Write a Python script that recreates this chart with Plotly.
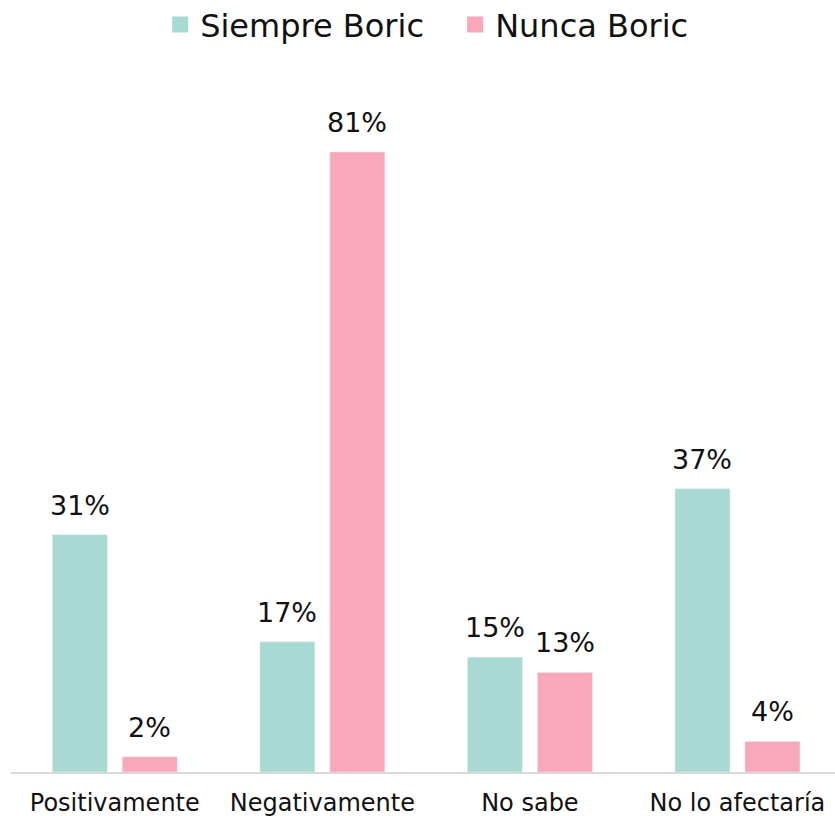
import plotly.graph_objects as go

categories = ["Positivamente", "Negativamente", "No sabe", "No lo afectaría"]
siempre = [31, 17, 15, 37]
nunca = [2, 81, 13, 4]
series_names = ["Siempre Boric", "Nunca Boric"]
colors = ["#A8DAD3", "#F8A8BA"]

FONT = "DejaVu Sans"
fig = go.Figure()
offsets = [-0.301, 0.036]
for name, vals, col, off in [(series_names[0], siempre, colors[0], offsets[0]),
                             (series_names[1], nunca, colors[1], offsets[1])]:
    fig.add_trace(go.Bar(
        x=categories, y=vals, name=name, marker_color=col,
        width=0.265, offset=off, cliponaxis=False, showlegend=False,
    ))
    fig.add_trace(go.Scatter(
        x=[None], y=[None], mode="markers", name=name,
        marker=dict(symbol="square", size=17, color=col), showlegend=True,
    ))
    for i, v in enumerate(vals):
        fig.add_annotation(x=i + off + 0.1325, y=v, xref="x", yref="y",
                           text=f"{v}%", showarrow=False, yanchor="bottom",
                           yshift=12,
                           font=dict(family=FONT, size=27, color="#111111"))

fig.update_layout(
    width=835, height=816,
    barmode="overlay",
    plot_bgcolor="white", paper_bgcolor="white",
    margin=dict(l=11, r=0, t=80, b=44, autoexpand=False),
    font=dict(family=FONT, color="#111111"),
    legend=dict(orientation="h", x=0.181, xanchor="left", y=1.08, yanchor="middle",
                font=dict(family=FONT, size=32, color="#111111"),
                itemwidth=30, traceorder="normal", itemsizing="trace",
                entrywidth=250, entrywidthmode="pixels"),
    showlegend=True,
)
fig.update_xaxes(range=[-0.5, 3.47], showline=True, linecolor="#D9D9D9", linewidth=2,
                 ticks="", showgrid=False, automargin=False,
                 tickfont=dict(family=FONT, size=24, color="#111111"),
                 ticklabelstandoff=8)
fig.update_yaxes(range=[0, 90.4], visible=False, showgrid=False, automargin=False)
fig.write_html("out.html", post_script="document.body.style.margin='0';",
               config={"displayModeBar": False})
